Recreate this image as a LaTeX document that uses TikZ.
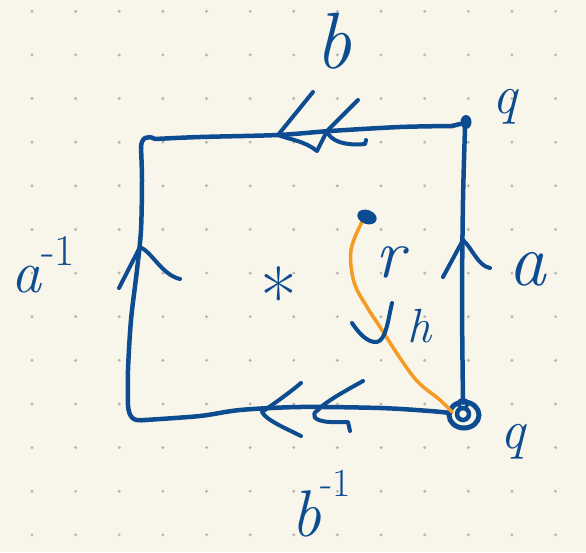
\documentclass[tikz,border=0pt]{standalone}
\usepackage{fontspec}
\usetikzlibrary{calc}
\definecolor{bgc}{HTML}{F8F6EA}
\definecolor{dotc}{HTML}{B8B5AC}
\definecolor{ink}{HTML}{0E4C92}
\definecolor{org}{HTML}{F59A23}
\tikzset{
  pen/.style={draw=ink, line width=4.5pt, line cap=round, line join=round},
  tip/.style={draw=ink, line width=4pt, line cap=round, line join=round},
  lab/.style={text=ink, inner sep=0pt, anchor=base},
}
\newcommand{\fsz}[1]{\fontsize{#1}{#1}\selectfont}
\begin{document}
\begin{tikzpicture}[x=1pt,y=-1pt]
\fill[bgc] (0,0) rectangle (586,552);
\useasboundingbox (0,0) rectangle (586,552);
% dot grid
\foreach \i in {0,...,12}{
  \foreach \j in {0,...,12}{
    \fill[dotc] ({32+43.63*\i},{11.3+43.63*\j}) circle (1.6);
  }
}
% vertices
\coordinate (q) at (463,414);
\coordinate (qt) at (466,122);
\coordinate (tl) at (141,148);
\coordinate (bl) at (145,420);
\coordinate (rdot) at (367,217);
% top edge (b)
\draw[pen] plot[smooth, tension=0.5] coordinates {(452,126) (400,127) (330,131) (278,135) (200,137) (155,139)}
  .. controls (148,135) and (141,137) .. (tl);
% left edge (a^{-1})
\draw[pen] plot[smooth, tension=0.5] coordinates {(141,148) (142,180) (141,230) (137,270) (131,320) (128,370) (128,405)}
  .. controls (129,420) and (135,421) .. (bl);
% bottom edge (b^{-1})
\draw[pen] plot[smooth, tension=0.5] coordinates {(145,420) (200,416) (240,410) (300,407) (380,408) (430,411) (450,413)};
% right edge (a)
\draw[pen] plot[smooth, tension=0.5] coordinates {(463,400) (462,300) (463,200) (465,128)};
% top-right vertex blob
\fill[ink] (qt) ellipse (5.5 and 7);
\draw[pen] (452,126) -- (460,124);
% bottom-right vertex scribble
\draw[draw=ink, line width=5pt] ($(q)+(1,1)$) ellipse (15 and 13);
\draw[draw=ink, line width=4.5pt] ($(q)+(0,0)$) circle (6);
\draw[draw=ink, line width=3.5pt] ($(q)+(0,-10)$) circle (4.5);
% arrows on top edge
\draw[tip] (313,92) -- (278,135) .. controls (288,139) and (305,141) .. (317,151) -- (327,131);
\draw[tip] (358,100) -- (327,131) .. controls (330,141) and (345,146) .. (365,144) -- (366,140);
% arrows on bottom edge
\draw[tip] (301,383) .. controls (288,394) and (272,405) .. (262,412) .. controls (266,420) and (285,428) .. (301,436);
\draw[tip] (363,381) .. controls (345,391) and (325,402) .. (318,410) .. controls (311,414) and (312,421) .. (330,422) -- (348,422) -- (350,431);
% arrow on left edge
\draw[tip] (119,288) -- (140,247) .. controls (152,252) and (162,275) .. (180,279);
% arrow on right edge
\draw[tip] (443,277) -- (463,240) .. controls (472,248) and (478,266) .. (490,268);
% orange path h
\draw[draw=org, line width=3.5pt, line cap=round] plot[smooth, tension=0.6] coordinates {(362,222) (351,250) (354,282) (367,307) (380,327) (400,358) (418,382) (440,400) (452,412)};
\fill[ink, rotate around={-20:(rdot)}] (rdot) ellipse (10 and 7);
% arrowhead on h
\draw[tip] (352,323) .. controls (358,332) and (367,343) .. (377,342) .. controls (386,340) and (388,320) .. (392,303);
% labels
\node[lab, font=\fsz{80}\itshape] (lb) at (333,68) {b};
\node[lab, font=\fsz{55}\itshape, anchor=base west] (lqt) at (492,113) {q};
\node[lab, font=\fsz{75}\itshape] (la) at (527,285) {a};
\node[lab, anchor=base west] (lainv) at (11,292) {{\fsz{60}\itshape a}{\fsz{44}\raisebox{27pt}{-1}}};
\node[lab, font=\fsz{80}] (star) at (279,326) {*};
\node[lab, font=\fsz{70}\itshape] (lr) at (390,277) {r};
\node[lab, font=\fsz{48}\itshape] (lh) at (419,342) {h};
\node[lab, font=\fsz{55}\itshape, anchor=base west] (lq) at (500,448) {q};
\node[lab, anchor=base west] (lbinv) at (291,536) {{\fsz{66}\itshape b}{\fsz{40}\raisebox{40pt}{-1}}};
\end{tikzpicture}
\end{document}
